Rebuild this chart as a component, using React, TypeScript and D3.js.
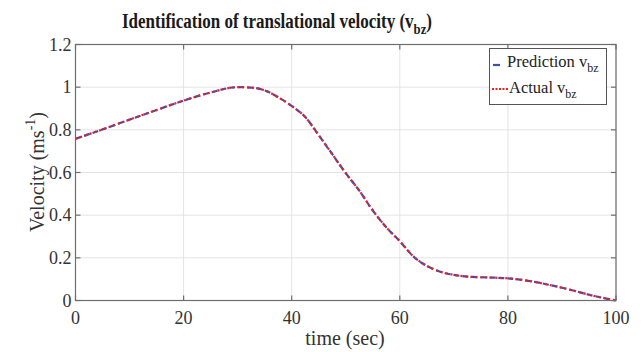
import React from "react";
import * as d3 from "d3";

const timeValues = [0, 5, 10, 15, 20, 25, 30, 33, 35, 38, 40, 42.5, 45, 47.5, 50, 52.5, 55, 57.5, 60, 62.5, 65, 67.5, 70, 72.5, 75, 77.5, 80, 82.5, 85, 87.5, 90, 92.5, 95, 97.5, 100];
const predictionValues = [0.758, 0.802, 0.848, 0.893, 0.937, 0.975, 1.0, 0.997, 0.985, 0.945, 0.912, 0.86, 0.775, 0.686, 0.597, 0.515, 0.422, 0.343, 0.278, 0.207, 0.162, 0.135, 0.12, 0.112, 0.109, 0.107, 0.104, 0.097, 0.087, 0.074, 0.06, 0.044, 0.027, 0.013, 0.0];
const actualValues = [0.758, 0.802, 0.848, 0.893, 0.937, 0.975, 1.0, 0.997, 0.985, 0.945, 0.912, 0.86, 0.775, 0.686, 0.597, 0.515, 0.422, 0.343, 0.278, 0.207, 0.162, 0.135, 0.12, 0.112, 0.109, 0.107, 0.104, 0.097, 0.087, 0.074, 0.06, 0.044, 0.027, 0.013, 0.0];
const xTicks = [0, 20, 40, 60, 80, 100];
const yTicks = [0, 0.2, 0.4, 0.6, 0.8, 1, 1.2];

const W = 643;
const H = 352;
const L = 75.5, R = 616, T = 44.5, B = 300.5;
const FONT = "'Liberation Serif', 'Times New Roman', serif";
const AX = "#6e6e6e";
const TXT = "#333333";

export default function App() {
  const x = d3.scaleLinear().domain([0, 100]).range([L, R]);
  const y = d3.scaleLinear().domain([0, 1.2]).range([B, T]);
  const line = d3
    .line<number>()
    .x((_, i) => x(timeValues[i]))
    .y((d) => y(d))
    .curve(d3.curveMonotoneX);
  const predPath = line(predictionValues) || "";
  const actPath = line(actualValues) || "";
  const tickLen = 5;

  return (
    <svg width={W} height={H} style={{ position: "absolute", left: 0, top: 0, background: "#fff" }} fontFamily={FONT}>
      <rect x={0} y={0} width={W} height={H} fill="#fff" />
      {/* title */}
      <g transform="translate(277, 28) scale(0.85, 1)">
        <text x={0} y={0} textAnchor="middle" fontSize={20} fontWeight="bold" fill="#1a1a1a">
          Identification of translational velocity (v<tspan fontSize={15} dy={6}>bz</tspan><tspan dy={-6}>)</tspan>
        </text>
      </g>
      {/* grid */}
      {xTicks.map((t) => (
        <line key={"gx" + t} x1={x(t)} x2={x(t)} y1={T} y2={B} stroke="#e4e4e4" strokeWidth={1} />
      ))}
      {yTicks.map((t) => (
        <line key={"gy" + t} x1={L} x2={R} y1={y(t)} y2={y(t)} stroke="#e4e4e4" strokeWidth={1} />
      ))}
      {/* data */}
      <path d={predPath} fill="none" stroke="#3b4fb0" strokeWidth={2.2} strokeDasharray="6 3" />
      <path d={actPath} fill="none" stroke="#ff1a1a" strokeWidth={2.2} strokeDasharray="2 3" />
      {/* box */}
      <rect x={L} y={T} width={R - L} height={B - T} fill="none" stroke={AX} strokeWidth={1.2} />
      {/* ticks */}
      {xTicks.map((t) => (
        <g key={"tx" + t}>
          <line x1={x(t)} x2={x(t)} y1={B} y2={B - tickLen} stroke={AX} strokeWidth={1.2} />
          <line x1={x(t)} x2={x(t)} y1={T} y2={T + tickLen} stroke={AX} strokeWidth={1.2} />
          <text x={x(t)} y={B + 23} textAnchor="middle" fontSize={18} fill={TXT}>
            {t}
          </text>
        </g>
      ))}
      {yTicks.map((t) => (
        <g key={"ty" + t}>
          <line x1={L} x2={L + tickLen} y1={y(t)} y2={y(t)} stroke={AX} strokeWidth={1.2} />
          <line x1={R} x2={R - tickLen} y1={y(t)} y2={y(t)} stroke={AX} strokeWidth={1.2} />
          <text x={L - 4} y={y(t) + 6} textAnchor="end" fontSize={18} fill={TXT}>
            {d3.format("~g")(t)}
          </text>
        </g>
      ))}
      {/* axis labels */}
      <text x={345} y={345} textAnchor="middle" fontSize={20} fill={TXT}>
        time (sec)
      </text>
      <text transform={`translate(44, 172) rotate(-90)`} textAnchor="middle" fontSize={20} fill={TXT}>
        Velocity (ms<tspan fontSize={14} dy={-9}>-1</tspan><tspan dy={9}>)</tspan>
      </text>
      {/* legend */}
      <rect x={489.5} y={48.5} width={117} height={56} fill="#fff" stroke="#555" strokeWidth={1} />
      <line x1={493} x2={500} y1={65} y2={65} stroke="#3b4fb0" strokeWidth={2.2} />
      <text x={507} y={67} fontSize={16.5} fill="#222">
        Prediction v<tspan fontSize={12} dy={5}>bz</tspan>
      </text>
      <line x1={492} x2={509} y1={89} y2={89} stroke="#ff1a1a" strokeWidth={2.2} strokeDasharray="2 1.5" />
      <text x={509} y={93} fontSize={16.5} fill="#222">
        Actual v<tspan fontSize={12} dy={5}>bz</tspan>
      </text>
    </svg>
  );
}
